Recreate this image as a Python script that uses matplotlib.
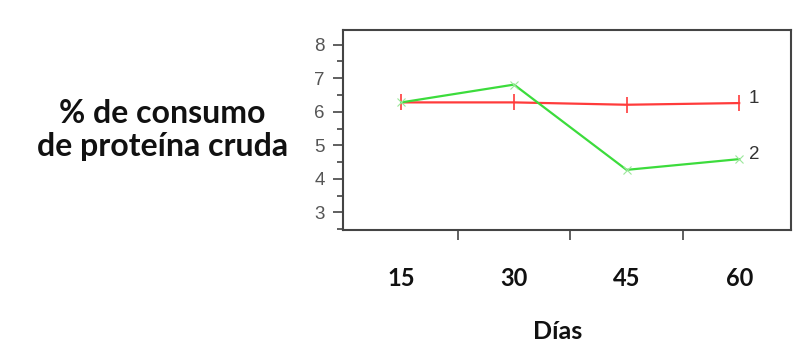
import matplotlib
matplotlib.use("Agg")
import matplotlib.pyplot as plt
from matplotlib.ticker import MultipleLocator, FixedLocator

# Data
dias = ["15", "30", "45", "60"]
serie_1 = [6.28, 6.28, 6.21, 6.26]
serie_2 = [6.28, 6.81, 4.27, 4.59]
series_labels = ["1", "2"]

pos = list(range(1, len(dias) + 1))

fig = plt.figure(figsize=(8.01, 3.56), dpi=100)
fig.patch.set_facecolor("white")
ax = fig.add_axes([0.428, 0.355, 0.5595, 0.562])

ax.plot(pos, serie_1, color="#ff3b3b", lw=1.6, marker="|", ms=11, mew=1.2, zorder=3)
ax.plot(pos, serie_2, color="#3cdc3c", lw=1.6, marker="x", ms=6, mew=0.8,
        mec="#9be89b", zorder=3)

for vals, lab in zip([serie_1, serie_2], series_labels):
    ax.annotate(lab, (pos[-1], vals[-1]), xytext=(7, 3), textcoords="offset points",
                fontsize=13.5, color="#333333", family="Liberation Sans",
                ha="left", va="center")

ax.set_xlim(0.48, 4.46)
ax.set_ylim(2.49, 8.45)

# y axis ticks
ax.yaxis.set_major_locator(MultipleLocator(1))
ax.yaxis.set_minor_locator(MultipleLocator(0.5))
ax.tick_params(axis="y", which="major", length=7, width=1.2, color="#444444",
               labelsize=13.5, labelcolor="#555555", pad=6)
ax.tick_params(axis="y", which="minor", length=4, width=1.2, color="#444444")
for t in ax.get_yticklabels():
    t.set_family("Liberation Sans")

# x axis: separator ticks between days, labels centred on each day
ax.xaxis.set_major_locator(FixedLocator([1.5, 2.5, 3.5]))
ax.xaxis.set_major_formatter(plt.NullFormatter())
ax.xaxis.set_minor_locator(FixedLocator(pos))
ax.set_xticklabels(dias, minor=True)
ax.tick_params(axis="x", which="major", length=7, width=1.2, color="#444444")
ax.tick_params(axis="x", which="minor", length=0, pad=27, labelsize=17,
               labelcolor="#111111")
for t in ax.xaxis.get_minorticklabels():
    t.set_family("Lato")
    t.set_fontweight("bold")

for sp in ax.spines.values():
    sp.set_color("#444444")
    sp.set_linewidth(1.5)

ax.set_xlabel("Días", family="Lato", fontweight="bold", fontsize=18,
              color="#111111")
ax.xaxis.set_label_coords((558 - 343) / 448, -0.51)
ax.xaxis.label.set_va("center")

fig.text(0.203, 0.635, "% de consumo\nde proteína cruda", family="Lato",
         fontweight="bold", fontsize=23, color="#111111", ha="center",
         va="center", linespacing=1.2)

fig.savefig("out.png", dpi=100, facecolor="white")
